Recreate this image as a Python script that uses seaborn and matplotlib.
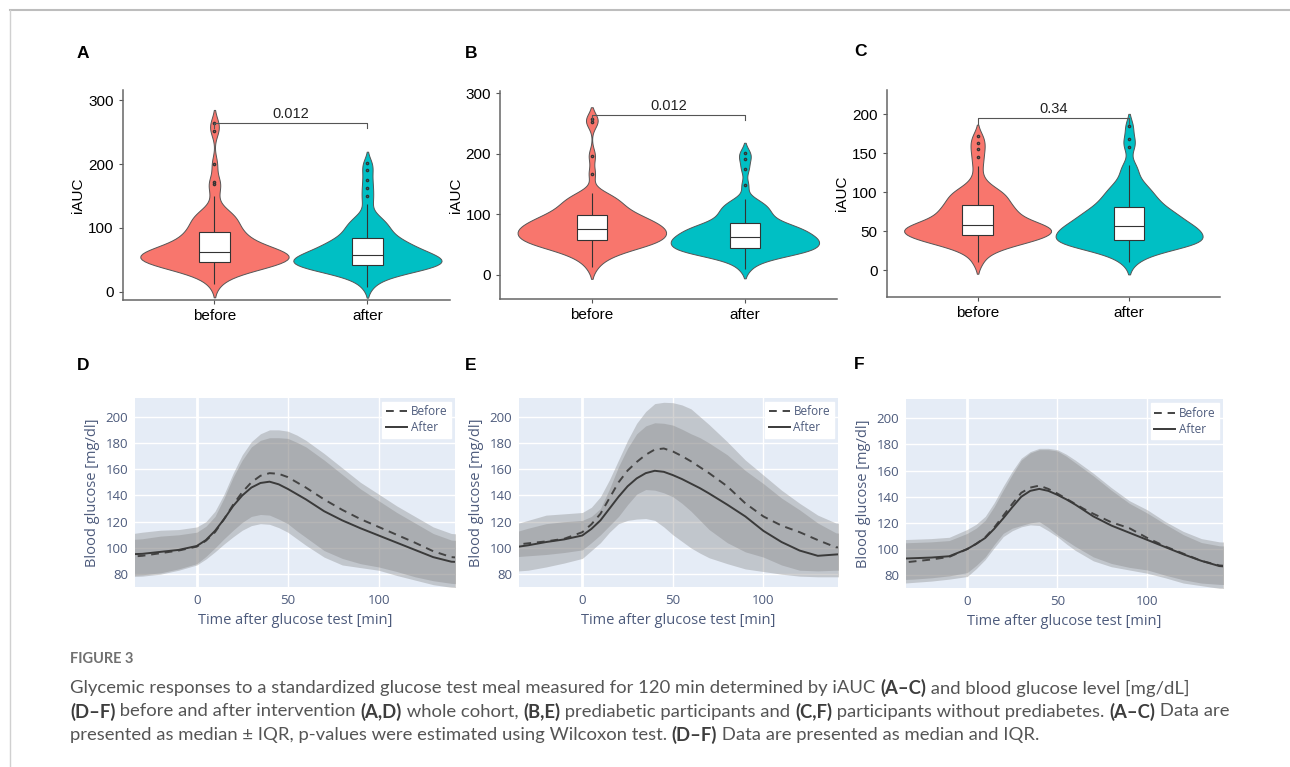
import numpy as np
import pandas as pd
import matplotlib
matplotlib.use("Agg")
import matplotlib.pyplot as plt
import seaborn as sns
from matplotlib.lines import Line2D

a_before = [12, 22, 28, 33, 36, 39, 41, 42, 43, 44, 45, 46, 47,
            48, 50, 52, 53, 55, 56, 57, 58, 59, 60, 61, 62,
            64, 66, 68, 70, 72, 74, 77, 80, 83, 86, 89, 91,
            94, 100, 106, 112, 118, 124, 130, 150, 168, 172, 200, 252, 264,
            30, 38, 42, 44, 46, 52, 55, 57, 59, 61, 63, 66, 70, 78, 88, 96, 104, 110, 116, 122]
a_after = [8, 18, 24, 28, 31, 34, 36, 37, 38, 39, 40, 41, 42,
           43, 45, 46, 48, 50, 51, 52, 53, 54, 55, 56, 57,
           59, 61, 63, 65, 67, 69, 71, 73, 75, 77, 79, 81,
           85, 90, 96, 102, 108, 115, 122, 138, 150, 162, 175, 190, 202,
           25, 33, 37, 40, 41, 44, 47, 50, 53, 56, 58, 62, 66, 72, 78, 86, 92, 98, 104, 112]
b_before = [12, 25, 32, 38, 42, 45, 48, 50, 52, 53, 54, 55, 56,
            58, 60, 62, 64, 66, 67, 68, 70, 72, 73, 74, 75,
            77, 79, 80, 82, 84, 86, 88, 90, 92, 94, 96, 97,
            100, 104, 108, 112, 117, 122, 127, 131, 135, 167, 197, 252, 258,
            30, 40, 46, 50, 54, 58, 63, 66, 70, 74, 78, 82, 86, 90, 95, 102, 108, 114, 120, 128]
b_after = [10, 20, 27, 31, 34, 36, 38, 39, 40, 41, 42, 43, 44,
           46, 48, 50, 52, 53, 55, 56, 57, 58, 59, 60, 62,
           64, 66, 67, 69, 71, 73, 75, 77, 78, 79, 80, 82,
           86, 90, 95, 100, 105, 110, 116, 121, 125, 148, 175, 192, 202,
           26, 33, 37, 40, 43, 47, 51, 54, 57, 60, 64, 68, 72, 76, 80, 88, 94, 100, 108, 114]
c_before = [10, 20, 26, 30, 33, 36, 38, 39, 40, 41, 42, 43, 44,
            46, 48, 49, 50, 51, 52, 53, 54, 55, 56, 57, 57,
            59, 61, 63, 65, 67, 69, 72, 74, 76, 78, 80, 81,
            84, 88, 92, 95, 98, 102, 110, 120, 134, 145, 155, 163, 172,
            28, 35, 38, 41, 43, 46, 49, 51, 54, 56, 58, 62, 66, 72, 78, 86, 90, 96, 100, 106]
c_after = [10, 18, 23, 27, 30, 32, 33, 34, 35, 36, 37, 37, 38,
           40, 42, 44, 46, 48, 49, 50, 51, 52, 53, 54, 55,
           57, 59, 61, 63, 65, 67, 69, 71, 73, 75, 77, 78,
           82, 86, 90, 95, 100, 106, 112, 120, 128, 135, 158, 168, 185,
           22, 29, 33, 35, 37, 40, 43, 47, 50, 54, 58, 62, 66, 70, 76, 84, 88, 94, 100, 108]
p_values = ["0.012", "0.012", "0.34"]
bracket_y = [264, 264, 194.5]

# ---- glucose curves (median and IQR) ----
times = [-40, -30, -20, -10, 0, 5, 10, 15, 20, 25, 30, 35, 40, 45, 50, 55, 60, 65, 70,
         80, 90, 100, 110, 120, 130, 140, 150]

d_before_med = [93, 94, 96, 98, 101, 105.5, 112, 122, 133, 142.5, 150, 155, 157, 156.5, 154, 150, 146, 141.5, 137,
                129, 122, 116, 110, 104, 97.5, 93, 92]
d_after_med = [95, 95.5, 97, 98.5, 101.5, 106, 113, 122, 132, 140, 146, 149.5, 150.5, 148.5, 145, 141, 137, 132.5, 128,
               121, 115, 109.5, 104, 98.5, 93, 89.5, 89]
d_before_q1 = [79, 79.5, 81, 84, 88, 93.5, 100, 107, 113.5, 119.5, 124, 125.5, 125, 122, 118.5, 113, 108, 103, 98,
               92, 88, 85.5, 82, 78, 75, 73, 72]
d_before_q3 = [110, 112, 113.5, 114, 116, 120, 128, 141, 157, 171, 181, 187, 190, 190, 189, 186, 182, 177, 172,
               161, 150, 141, 132, 124, 116, 111, 110]
d_after_q1 = [78, 78.5, 80, 83, 87, 91.5, 97, 103, 108.5, 113.5, 117, 118.5, 118, 115.5, 112, 107, 102, 97.5, 93,
              87, 85, 83, 79, 75.5, 72, 70, 69]
d_after_q3 = [106, 107, 109, 110, 112, 116.5, 124, 138, 154, 167, 177, 182, 184, 184, 183.5, 180.5, 177, 172, 167,
              156, 145, 136, 127, 119, 111, 106, 105]

e_before_med = [102, 103.5, 105, 107, 112, 118, 126, 138, 150, 159, 165.5, 171, 175, 175.8, 173.5, 170, 166, 161.5, 157,
                147, 134, 124, 117, 112, 106, 100.5, 100]
e_after_med = [100, 102, 104.5, 106.5, 109.5, 114.5, 121, 130, 139, 147, 153, 157, 158.8, 158, 155.5, 152.5, 149, 145.5, 141.5,
               133, 124, 113, 104.5, 98, 94, 95, 96]
e_before_q1 = [93, 94, 95, 96.5, 98.5, 104, 110, 117, 124, 133, 141, 144.5, 144, 142, 139, 134, 128, 121, 114,
               104, 97, 93, 87, 83, 82.5, 83, 83]
e_before_q3 = [117, 121, 125, 126, 127, 131, 139, 152, 167, 182, 195, 204, 210, 211, 210.7, 209, 206, 200, 194,
               181, 167, 155.5, 144, 134, 125, 119, 118]
e_after_q1 = [82, 83, 85.5, 88.5, 92, 98, 104, 112, 118.5, 121, 122, 122.4, 121, 116, 110, 105, 100, 96, 92.5,
              88, 84, 82, 80, 78.5, 78, 78, 78]
e_after_q3 = [111, 115, 118.5, 120, 121, 124, 130, 145, 162, 176, 187, 193, 195.4, 195, 193.6, 190.5, 187, 184, 180,
              171, 159, 149, 138, 129, 119, 111.5, 110]

f_before_med = [89, 90.5, 92, 94, 100, 104, 109, 116.5, 125.5, 134.5, 143, 147, 148.5, 146, 142.5, 138.5, 134.5, 130.5, 127,
                120.5, 116, 108.5, 102, 96.5, 91, 87.5, 86.5]
f_after_med = [92.5, 93, 93.5, 94.5, 100, 104, 108.5, 115.5, 123.5, 132, 140, 144.5, 146, 144.5, 141.5, 138, 134, 129.5, 125,
               118, 112.5, 107, 101.5, 96, 91, 87, 86]
f_before_q1 = [76.5, 77, 78, 79.5, 82, 87.5, 94, 103.5, 112, 116, 118, 120, 121, 116.5, 111, 106.5, 102, 98, 94,
               89, 86, 84, 80, 76.5, 74, 73, 72.5]
f_before_q3 = [107, 107.5, 108, 109, 115, 119, 125, 135.5, 148, 159.5, 169.5, 174.5, 177, 177, 176, 172.5, 168, 163, 158,
               147, 137, 130, 121, 113.5, 108, 105.5, 105]
f_after_q1 = [73.5, 74.5, 75.5, 77, 79, 85, 92, 101, 109.5, 114, 117, 118.5, 118, 114, 109.5, 104, 99, 95, 91,
              86.5, 84, 81.5, 78, 74, 72, 70, 69.5]
f_after_q3 = [104.5, 105, 105.5, 106.5, 112, 116, 122, 132.5, 145, 157, 168, 173.5, 176, 176, 175, 171, 166, 161, 156,
              145, 135, 127.5, 119, 111, 105, 102.5, 102]

W, H = 1290, 767
fig = plt.figure(figsize=(W / 100, H / 100), dpi=100)


def px_axes(l, t, r, b):
    return fig.add_axes([l / W, 1 - b / H, (r - l) / W, (b - t) / H])


# frame lines of the figure page
fig.add_artist(Line2D([10 / W, 1], [1 - 10 / H, 1 - 10 / H], color="#bdbdbd", lw=1.5))
fig.add_artist(Line2D([10 / W, 10 / W], [0, 1 - 10 / H], color="#d0d0d0", lw=1))

# ---------------- violins ----------------
violin_sets = [(a_before, a_after), (b_before, b_after), (c_before, c_after)]
violin_boxes = [(122.7, 90, 450, 300), (500, 91, 836.7, 299.3), (886.7, 90, 1220, 296.7)]
violin_ylims = [(-13, 316), (-41, 304), (-34, 231)]
violin_xlims = [(-0.6, 1.54), (-0.6, 1.6), (-0.6, 1.6)]
violin_ticks = [[0, 100, 200, 300], [0, 100, 200, 300], [0, 50, 100, 150, 200]]
pal = {"before": "#F8766D", "after": "#00BFC4"}
arial = "Liberation Sans"

for i in range(3):
    before, after = violin_sets[i]
    df = pd.DataFrame({"group": ["before"] * len(before) + ["after"] * len(after),
                       "iAUC": before + after})
    ax = px_axes(*violin_boxes[i])
    sns.violinplot(data=df, x="group", y="iAUC", hue="group", order=["before", "after"],
                   palette=pal, saturation=1, inner=None, linecolor="#555555", linewidth=0.7,
                   density_norm="width", width=0.97, bw_adjust=0.6, cut=1.7, legend=False, ax=ax)
    sns.boxplot(data=df, x="group", y="iAUC", order=["before", "after"], color="white",
                saturation=1, linecolor="#333333", linewidth=0.8, width=0.2, fliersize=1.6,
                showcaps=False, ax=ax)
    y0 = bracket_y[i]
    tip = (violin_ylims[i][1] - violin_ylims[i][0]) * 0.025
    ax.plot([0, 0, 1, 1], [y0 - tip, y0, y0, y0 - tip], color="#555555", lw=0.8)
    ax.text(0.5, y0 + tip * 0.5, p_values[i], ha="center", va="bottom", fontsize=10.5,
            family=arial, color="#222222")
    ax.set_ylim(*violin_ylims[i])
    ax.set_xlim(*violin_xlims[i])
    ax.set_yticks(violin_ticks[i])
    ax.set_xlabel("")
    ax.set_ylabel("iAUC", fontsize=11, family=arial, color="black", labelpad=2)
    ax.set_facecolor("white")
    for s in ["top", "right"]:
        ax.spines[s].set_visible(False)
    for s in ["left", "bottom"]:
        ax.spines[s].set_color("#666666")
        ax.spines[s].set_linewidth(1.1)
    ax.tick_params(axis="both", colors="#555555", length=3, width=0.8, labelsize=11,
                   labelcolor="black")
    for lab in ax.get_xticklabels() + ax.get_yticklabels():
        lab.set_family(arial)

# ---------------- glucose curves ----------------
curve_sets = [
    (d_before_med, d_after_med, d_before_q1, d_before_q3, d_after_q1, d_after_q3),
    (e_before_med, e_after_med, e_before_q1, e_before_q3, e_after_q1, e_after_q3),
    (f_before_med, f_after_med, f_before_q1, f_before_q3, f_after_q1, f_after_q3),
]
curve_boxes = [(135, 397.7, 455, 587.3), (519.3, 397.7, 837.7, 587.3), (906, 399.3, 1223.3, 588.3)]
curve_xlims = [(-34, 142), (-34.8, 141), (-34, 142.2)]
plotly_font = "Open Sans"
plotly_text = "#4d5b7c"

for i in range(3):
    bmed, amed, bq1, bq3, aq1, aq3 = curve_sets[i]
    ax = px_axes(*curve_boxes[i])
    ax.set_facecolor("#E5ECF6")
    ax.fill_between(times, bq1, bq3, color="#808080", alpha=0.35, lw=0)
    ax.fill_between(times, aq1, aq3, color="#808080", alpha=0.35, lw=0)
    sns.lineplot(x=times, y=bmed, ax=ax, color="#444444", lw=1.4, linestyle=(0, (4, 3)),
                 label="Before")
    sns.lineplot(x=times, y=amed, ax=ax, color="#3a3a3a", lw=1.4, label="After")
    ax.set_xlim(*curve_xlims[i])
    ax.set_ylim(70, 214.5)
    ax.set_xticks([0, 50, 100])
    ax.set_yticks([80, 100, 120, 140, 160, 180, 200])
    ax.grid(True, color="white", lw=1)
    ax.set_axisbelow(True)
    ax.axvline(0, color="white", lw=2, zorder=0.6)
    for s in ax.spines.values():
        s.set_visible(False)
    ax.tick_params(axis="both", length=0, labelsize=9.5, labelcolor=plotly_text, pad=5)
    for lab in ax.get_xticklabels() + ax.get_yticklabels():
        lab.set_family(plotly_font)
    ax.set_xlabel("Time after glucose test [min]", fontsize=10.5, family=plotly_font,
                  color=plotly_text, labelpad=4)
    ax.set_ylabel("Blood glucose [mg/dl]", fontsize=10.5, family=plotly_font,
                  color=plotly_text, labelpad=4)
    leg = ax.legend(loc="upper right", frameon=True, fancybox=False, facecolor="white",
                    edgecolor="white", framealpha=1, handlelength=1.8,
                    handletextpad=0.3, borderpad=0.3, labelspacing=0.25, borderaxespad=0.35,
                    prop={"family": plotly_font, "size": 8.5})
    for t in leg.get_texts():
        t.set_color(plotly_text)

# ---------------- panel letters ----------------
letters = ["A", "B", "C", "D", "E", "F"]
letter_pos = [(77, 53), (465, 53.5), (854, 52), (77, 366), (465, 366), (854, 365)]
for lt, (x, y) in zip(letters, letter_pos):
    fig.text(x / W, 1 - y / H, lt, fontsize=12.5, fontweight="bold", family=arial,
             ha="left", va="center", color="black")

# ---------------- caption ----------------
cap_font = "Lato"
cap_size = 13.3
fig.text(70 / W, 1 - 659 / H, "FIGURE 3", fontsize=10.5, family=cap_font, fontweight="bold",
         color="#707070", ha="left", va="center")

caption_lines = [
    [("Glycemic responses to a standardized glucose test meal measured for 120 min determined by iAUC ", False),
     ("(A\u2013C)", True), (" and blood glucose level [mg/dL]", False)],
    [("(D\u2013F)", True), (" before and after intervention ", False), ("(A,D)", True),
     (" whole cohort, ", False), ("(B,E)", True), (" prediabetic participants and ", False),
     ("(C,F)", True), (" participants without prediabetes. ", False), ("(A\u2013C)", True),
     (" Data are", False)],
    [("presented as median \u00b1 IQR, p-values were estimated using Wilcoxon test. ", False),
     ("(D\u2013F)", True), (" Data are presented as median and IQR.", False)],
]
caption_y = [688, 711.5, 735]

renderer = fig.canvas.get_renderer()


def text_width(s, bold):
    kw = dict(fontsize=cap_size, family=cap_font, fontweight="bold" if bold else "normal")
    t1 = fig.text(0, 0, "x" + s + "x", **kw)
    t2 = fig.text(0, 0, "xx", **kw)
    w = t1.get_window_extent(renderer).width - t2.get_window_extent(renderer).width
    t1.remove()
    t2.remove()
    return w


for runs, y in zip(caption_lines, caption_y):
    x = 70.0
    for s, bold in runs:
        fig.text(x / W, 1 - y / H, s, fontsize=cap_size, family=cap_font,
                 fontweight="bold" if bold else "normal",
                 color="#3d3d3d" if bold else "#555555", ha="left", va="center")
        x += text_width(s, bold)

fig.savefig("out.png", dpi=100, facecolor="white")
